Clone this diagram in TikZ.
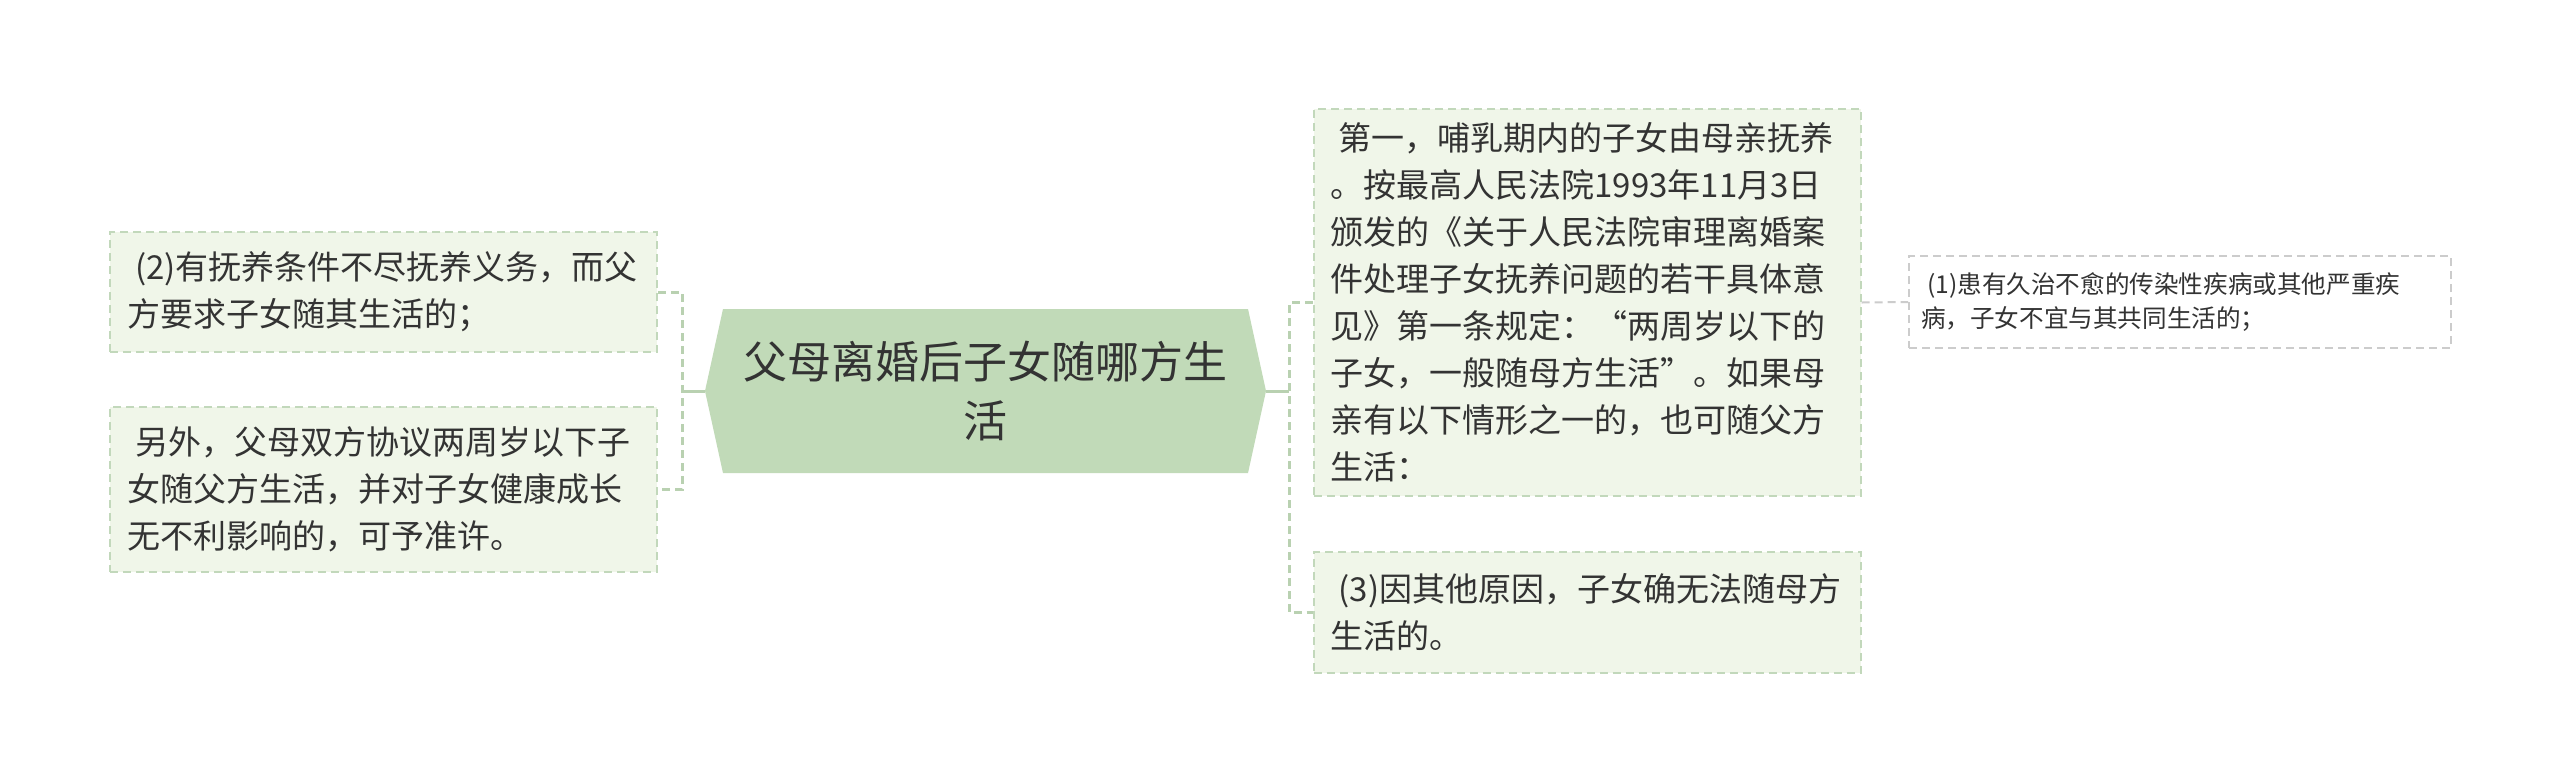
\documentclass[tikz,border=0pt]{standalone}
\usepackage{fontspec}
\setmainfont{Noto Sans CJK SC}
\definecolor{boxfill}{HTML}{F0F6E9}
\definecolor{boxline}{HTML}{C2D8BB}
\definecolor{centerfill}{HTML}{C1DAB8}
\definecolor{conn}{HTML}{B9D1B1}
\definecolor{grayline}{HTML}{CCCCCC}
\definecolor{txt}{HTML}{333333}
\newcommand{\lead}{\hspace*{0.25em}}
\begin{document}
\begin{tikzpicture}[x=0.5pt,y=-0.5pt,
  box/.style={draw=boxline, fill=boxfill, line width=1pt, dash pattern=on 4pt off 2.5pt,
    inner xsep=8.5pt, inner ysep=0pt, align=left, text width=256.5pt,
    font=\fontsize{16.5pt}{23.5pt}\selectfont, text=txt},
  smallbox/.style={draw=grayline, fill=white, line width=1pt, dash pattern=on 4pt off 2.5pt,
    inner xsep=6pt, inner ysep=0pt, align=left, text width=259pt,
    font=\fontsize{12.3pt}{17pt}\selectfont, text=txt, minimum height=46pt},
  trunk/.style={draw=conn, line width=1.5pt},
  branch/.style={draw=conn, line width=1.5pt, dash pattern=on 4pt off 2.5pt},
  thinbranch/.style={draw=grayline, line width=1pt, dash pattern=on 4pt off 2.5pt}]
\useasboundingbox (0,0) rectangle (2560,783);
\fill[white] (0,0) rectangle (2560,783);

% central topic
\fill[centerfill] (723,309) -- (1248,309) -- (1266,391) -- (1248,473) -- (723,473) -- (705,391) -- cycle;
\node[minimum width=280.5pt, minimum height=82pt, inner sep=0pt, align=center,
  font=\fontsize{22pt}{29.5pt}\selectfont, text=txt] (c) at (985.5,391) {父母离婚后子女随哪方生\\活};

% left boxes
\node[box, minimum height=60pt] (lb1) at (383.5,292) {\lead(2)有抚养条件不尽抚养义务，而父\\方要求子女随其生活的；};
\node[box, minimum height=82.5pt] (lb2) at (383.5,489.5) {\lead 另外，父母双方协议两周岁以下子\\女随父方生活，并对子女健康成长\\无不利影响的，可予准许。};

% right boxes
\node[box, minimum height=193.5pt] (rb1) at (1587,302.5) {\lead 第一，哺乳期内的子女由母亲抚养\\。按最高人民法院1993年11月3日\\颁发的《关于人民法院审理离婚案\\件处理子女抚养问题的若干具体意\\见》第一条规定：“两周岁以下的\\子女，一般随母方生活”。如果母\\亲有以下情形之一的，也可随父方\\生活：};
\node[box, minimum height=60.5pt] (rb2) at (1587,612.5) {\lead(3)因其他原因，子女确无法随母方\\生活的。};

% far right
\node[smallbox] (fr) at (2180,302) {\lead(1)患有久治不愈的传染性疾病或其他严重疾\\病，子女不宜与其共同生活的；};

% connectors
\coordinate (lj) at (682,391);
\coordinate (rj) at (1289,391);
\draw[trunk] (c.west) -- (lj);
\draw[branch] (lb1.east) -| (lj) |- (lb2.east);
\draw[trunk] (c.east) -- (rj);
\draw[branch] (rb1.west) -| (rj) |- (rb2.west);
\draw[thinbranch] (rb1.east) -- (fr.west);
\end{tikzpicture}
\end{document}
